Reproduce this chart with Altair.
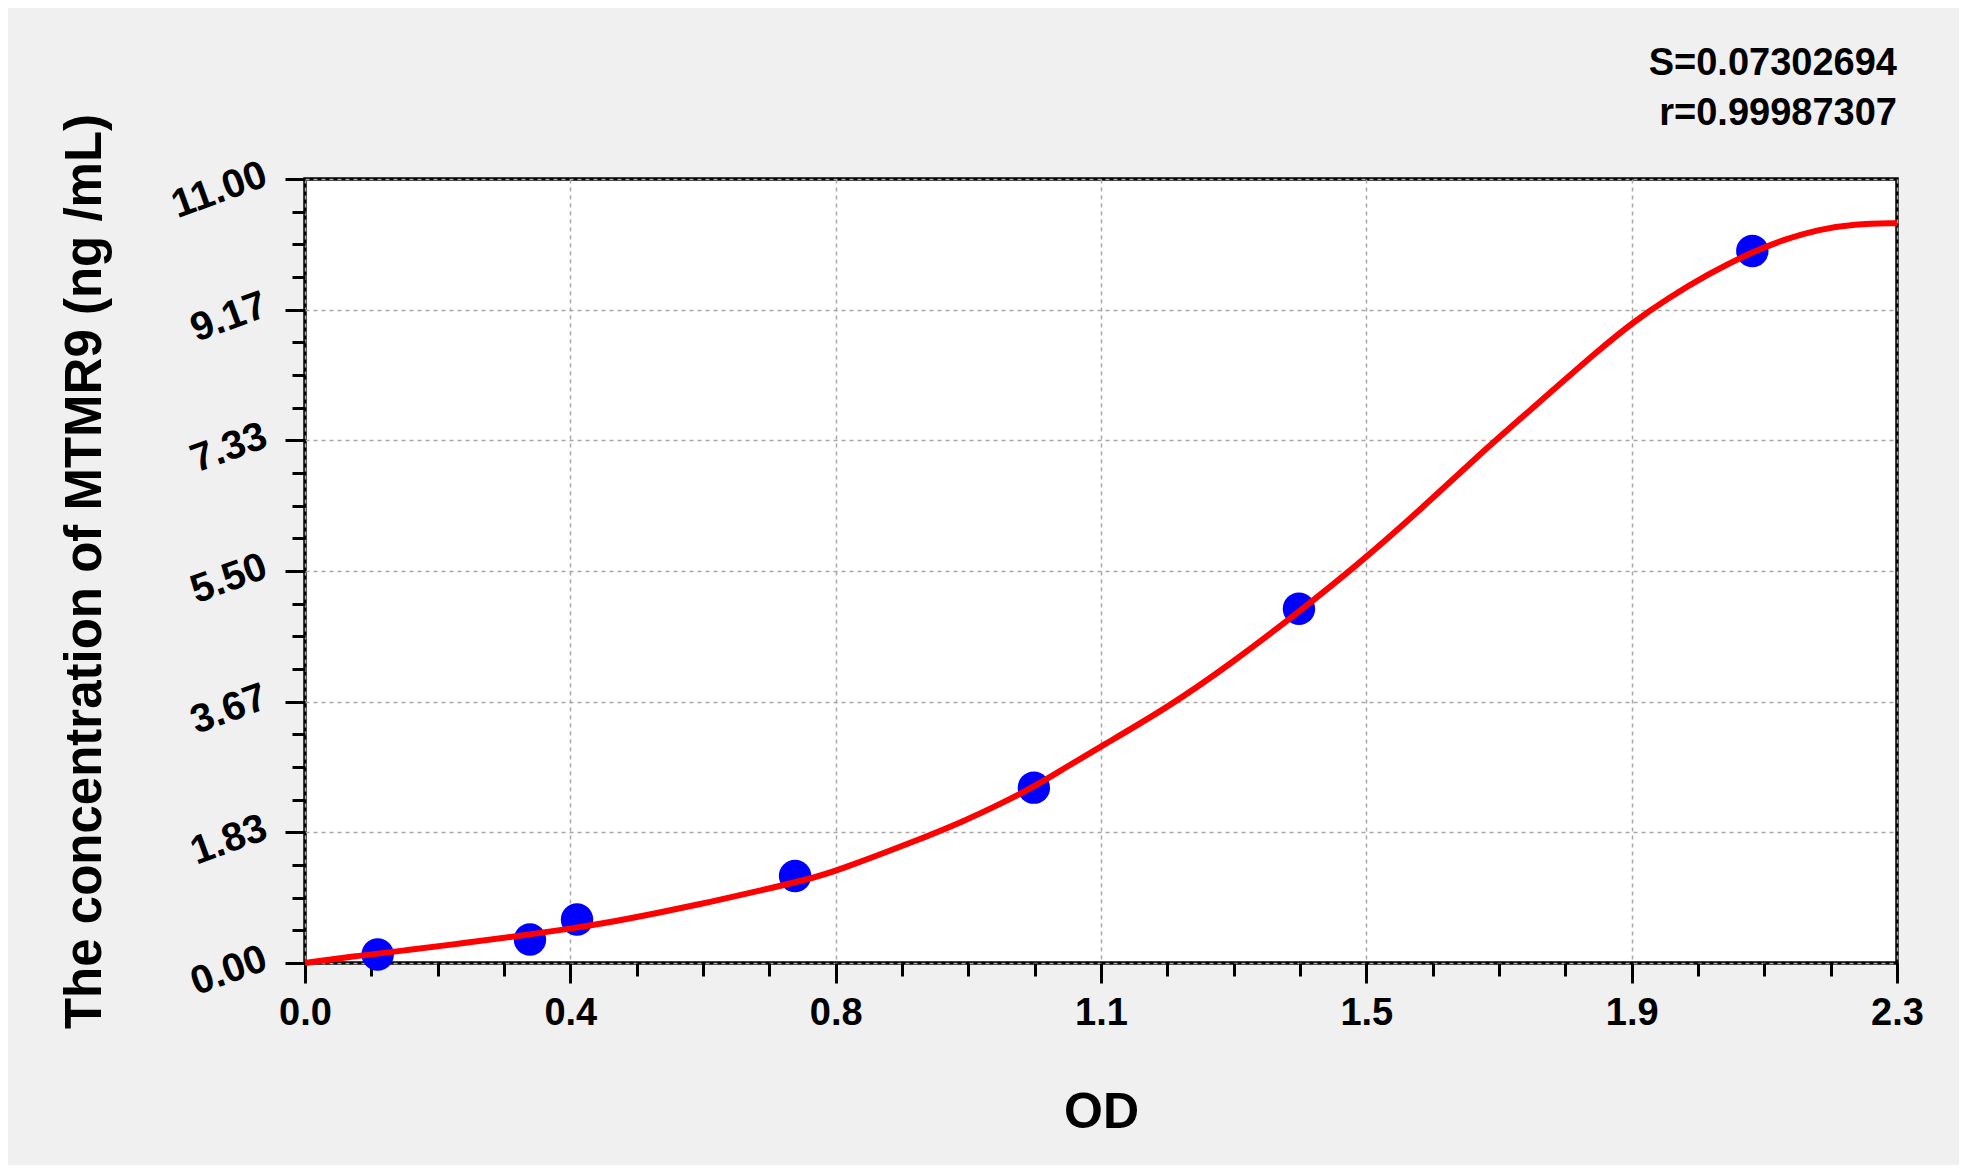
import altair as alt
import pandas as pd

# Standard points (OD, concentration)
pt_od = [0.105, 0.325, 0.393, 0.708, 1.053, 1.436, 2.091]
pt_conc = [0.12, 0.33, 0.61, 1.22, 2.46, 4.97, 9.99]

# Fitted curve
curve_od = [0.0, 0.075, 0.148, 0.221, 0.294, 0.383, 0.44, 0.514, 0.587, 0.66,
            0.733, 0.767, 0.879, 0.952, 1.006, 1.053, 1.095, 1.15, 1.244, 1.338,
            1.439, 1.52, 1.615, 1.697, 1.78, 1.869, 1.92, 1.968, 2.026, 2.091,
            2.137, 2.185, 2.238, 2.3]
curve_conc = [0.0, 0.10, 0.18, 0.27, 0.36, 0.48, 0.57, 0.71, 0.86, 1.02,
              1.19, 1.29, 1.70, 1.99, 2.24, 2.47, 2.72, 3.04, 3.57, 4.20,
              4.95, 5.58, 6.39, 7.14, 7.84, 8.60, 9.00, 9.32, 9.66, 9.98,
              10.15, 10.29, 10.37, 10.38]

# Axis ticks
x_major = [0.0, 0.3833, 0.7667, 1.15, 1.5333, 1.9167, 2.3]
x_minor = [0.0958, 0.1917, 0.2875, 0.4792, 0.575, 0.6708, 0.8625, 0.9583, 1.0542,
           1.2458, 1.3417, 1.4375, 1.6292, 1.725, 1.8208, 2.0125, 2.1083, 2.2042]
y_major = [0.0, 1.8333, 3.6667, 5.5, 7.3333, 9.1667, 11.0]
y_minor = [0.4583, 0.9167, 1.375, 2.2917, 2.75, 3.2083, 4.125, 4.5833, 5.0417,
           5.9583, 6.4167, 6.875, 7.7917, 8.25, 8.7083, 9.625, 10.0833, 10.5417]

stats_lines = ["S=0.07302694", "r=0.99987307"]
x_title = "OD"
y_title = "The concentration of MTMR9 (ng /mL)"

FONT = "Liberation Sans"
W, H = 1592, 784

pts = pd.DataFrame({"od": pt_od, "conc": pt_conc})
crv = pd.DataFrame({"od": curve_od, "conc": curve_conc})

xscale = alt.Scale(domain=[0, 2.3], nice=False, zero=False)
yscale = alt.Scale(domain=[0, 11], nice=False, zero=False)

major_x = alt.Axis(
    values=x_major, format=".1f", orient="bottom", grid=True,
    gridDash=[4, 4], gridColor="#a8a8a8", gridWidth=1.5,
    domain=False, tickSize=20, tickWidth=3, tickColor="black",
    labelFont=FONT, labelFontSize=38, labelFontWeight="bold", labelColor="black",
    labelPadding=11, labelFlush=False, labelOverlap=False,
    title=x_title, titleFont=FONT, titleFontSize=50, titleFontWeight="bold",
    titleColor="black", titleY=149, titleBaseline="middle",
)
major_y = alt.Axis(
    values=y_major, format=".2f", orient="left", grid=True,
    gridDash=[4, 4], gridColor="#a8a8a8", gridWidth=1.5,
    domain=False, tickSize=20, tickWidth=3, tickColor="black",
    labelFont=FONT, labelFontSize=40, labelFontWeight="bold", labelColor="black",
    labelAngle=340, labelAlign="right", labelBaseline="middle",
    labelPadding=20, labelOffset=-6, labelFlush=False, labelOverlap=False,
    title=y_title, titleFont=FONT, titleFontSize=51, titleFontWeight="bold",
    titleColor="black", titleX=-220, titleY=H / 2, titleAngle=270,
    titleAlign="center", titleBaseline="middle",
)
minor_x = alt.Axis(
    values=x_minor, orient="bottom", grid=False, labels=False, domain=False,
    tickSize=13, tickWidth=3, tickColor="black", title=None,
)
minor_y = alt.Axis(
    values=y_minor, orient="left", grid=False, labels=False, domain=False,
    tickSize=13, tickWidth=3, tickColor="black", title=None,
)

minor_layer = alt.Chart(pts).mark_point(opacity=0).encode(
    x=alt.X("od:Q", scale=xscale, axis=minor_x),
    y=alt.Y("conc:Q", scale=yscale, axis=minor_y),
)

dots = alt.Chart(pts).mark_point(
    filled=True, size=1050, color="#0000ff", opacity=1, strokeWidth=0
).encode(
    x=alt.X("od:Q", scale=xscale, axis=major_x),
    y=alt.Y("conc:Q", scale=yscale, axis=major_y),
)

line = alt.Chart(crv).mark_line(
    color="#ff0000", strokeWidth=6, interpolate="basis"
).encode(
    x=alt.X("od:Q", scale=xscale, axis=None),
    y=alt.Y("conc:Q", scale=yscale, axis=None),
)

chart = (
    alt.layer(minor_layer, dots, line)
    .resolve_axis(x="independent", y="independent")
    .properties(
        width=W,
        height=H,
        padding={"left": 297, "top": 171, "right": 62, "bottom": 202},
        autosize=alt.AutoSizeParams(type="none"),
        background="#f0f0f0",
        title=alt.TitleParams(
            text=stats_lines, anchor="end", frame="group", align="right",
            font=FONT, fontSize=38, fontWeight="bold", color="black",
            lineHeight=50, baseline="bottom", offset=-58,
        ),
    )
    .configure_view(fill="white", stroke="black", strokeWidth=3.5)
)

chart.save("out.html", embed_options={"renderer": "svg", "actions": False})
